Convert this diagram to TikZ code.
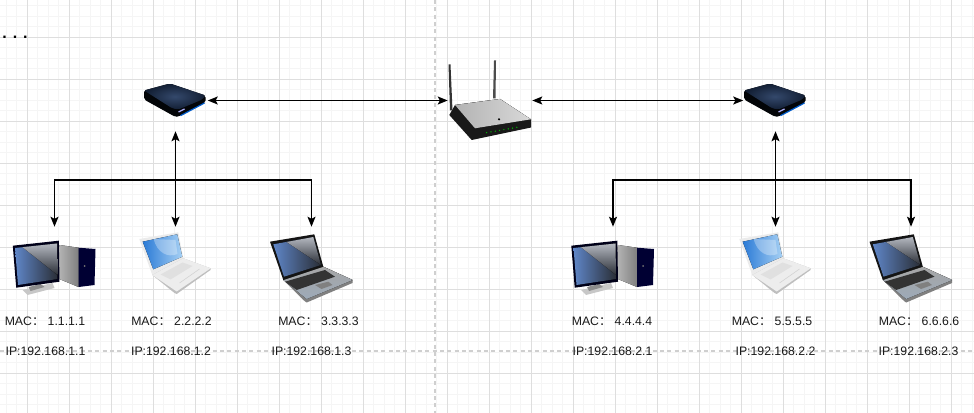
\documentclass[tikz,border=0pt]{standalone}
\usepackage{fontspec}
\setmainfont{Liberation Sans}
\newfontfamily\cjk{Noto Sans CJK SC}
\usetikzlibrary{shapes, arrows.meta, positioning}
\definecolor{minorgrid}{HTML}{F5F5F5}
\definecolor{majorgrid}{HTML}{DEDEDE}
\definecolor{guide}{HTML}{CFCFCF}
\definecolor{navya}{HTML}{121E33}
\definecolor{navyb}{HTML}{34496C}
\definecolor{scrblue}{HTML}{5F86C8}
\definecolor{scrdark}{HTML}{2A2E36}
\definecolor{scrgrey}{HTML}{B4B8C0}
\definecolor{macblue}{HTML}{2A7AD6}
\definecolor{maclight}{HTML}{A6D0F4}
\definecolor{steel}{HTML}{9DAAB8}
\tikzstyle{every node}=[font=\fontsize{9.2pt}{11pt}\selectfont]
\tikzstyle{swbox}=[inner sep=0pt,minimum width=48pt,minimum height=45.75pt]
\tikzstyle{rtbox}=[inner sep=0pt,minimum width=63pt,minimum height=63pt]
\tikzstyle{hostbox}=[inner sep=0pt,minimum width=63pt,minimum height=61.5pt]
\tikzstyle{lbl}=[inner sep=0pt,text=black!90]
\tikzstyle{link}=[line width=1.15pt,>={Stealth[length=7.5pt,width=6pt,inset=1.6pt]}]
\tikzset{
  swicon/.pic={
    \fill[black!85!navya,rounded corners=1.5] (-31.5,-10) -- (-31.5,-1) -- (0,16.5) -- (3,16) -- (30,2) -- (30,-5) -- cycle;
    \fill[inner color=navyb,outer color=navya,rounded corners=1.5] (-31.5,-10) -- (-5.5,-17) -- (30,-5) -- (27,-1) -- (3,9) -- (-3,8) -- cycle;
    \draw[blue!55!cyan!80!black,line width=.9pt] (5,15.2) -- (29,2.5);
    \draw[white!70!blue,line width=1pt] (3,11.5) -- (9,8.5);
  },
  rticon/.pic={
    \fill[black!80] (-41.5,-36) -- (-39.5,-36) -- (-37.5,10) -- (-40,10) -- cycle;
    \fill[black!70] (4,-40) -- (6,-40) -- (5.5,-2) -- (3,-2) -- cycle;
    \fill[black!90] (-40.7,14.5) -- (-35,4.5) -- (10,-1.5) -- (41,19) -- (41,27) -- (-18.3,39.5) -- cycle;
    \fill[left color=black!30,right color=black!15] (-35,4.5) -- (10,-1.5) -- (41,18.8) -- (-15,27.8) -- cycle;
    \fill[black] (9,18.8) circle (1.2);
    \foreach \n in {0,...,7} \fill[green!75!black] ({-3.3+\n*4.3},{32.2-\n*.77}) circle (.7);
  },
  pcicon/.pic={
    \fill[left color=black!25,right color=black!50] (5,-23) -- (24,-20.3) -- (24,19) -- (0,9) -- cycle;
    \fill[black!80!blue] (24,-20.3) -- (41,-19) -- (40,17) -- (24,19) -- cycle;
    \fill[black!55] (30,-2) circle (1);
    \fill[black!22] (-32,22) -- (-2,15) -- (0,20) -- (-27,27) -- cycle;
    \fill[black!45] (-26,19) -- (-14,16) -- (-10,19) -- (-24,23) -- cycle;
    \fill[black!90!blue] (-41.7,-22.3) -- (4.3,-27.3) -- (5,13.7) -- (-38.3,19.7) -- cycle;
    \fill[left color=scrblue,right color=scrdark] (-39.5,-20) -- (2.5,-24.5) -- (3,11) -- (-36.5,17) -- cycle;
    \fill[top color=scrgrey,bottom color=scrdark] (-32,-20.8) -- (2.5,-24.5) -- (3,7) -- cycle;
  },
  macicon/.pic={
    \fill[black!8] (-36.2,-29) -- (2.8,-35.7) -- (7.8,-9.7) -- (-23.2,7) -- cycle;
    \fill[left color=macblue,right color=maclight] (-32.8,-26.3) -- (1.8,-33.7) -- (6.8,-11.3) -- (-22.2,1.3) -- cycle;
    \fill[white,opacity=.3] (-22,-29) .. controls (-18,-15) and (-8,-10) .. (2,-14) -- (0,-28) -- cycle;
    \fill[black!25] (-23.2,7) -- (7.8,-9.7) -- (35.2,0.3) -- (35,2) -- (1.2,26) -- (-1,25) -- cycle;
    \fill[black!7] (-23.2,7) -- (7.8,-9.7) -- (35.2,0.3) -- (1.2,23.5) -- cycle;
    \fill[black!12] (-15,6.5) -- (7,-5.5) -- (17,-2) -- (-5,11.5) -- cycle;
    \draw[black!18,line width=.4pt] (4,15) -- (14,8) -- (24,1);
  },
  nbicon/.pic={
    \fill[black!50] (-28.2,12) -- (11.8,-1.3) -- (41.2,12) -- (41,15) -- (-4.8,34.5) -- (-7,33) -- cycle;
    \fill[top color=black!35,bottom color=steel] (-28.2,12) -- (11.8,-1.3) -- (41.2,12) -- (-4.8,31) -- cycle;
    \fill[black!80] (-26.5,13.7) -- (13.5,2) -- (23.5,8.7) -- (-14.8,22) -- cycle;
    \fill[black!50] (3.5,17) -- (16.8,13.7) -- (21,17) -- (10,21) -- cycle;
    \fill[black!92] (-41.5,-26.3) -- (2.8,-33.7) -- (11.8,-1.3) -- (-28.2,12) -- cycle;
    \fill[left color=scrblue,right color=scrdark] (-38.2,-23.7) -- (1.8,-31) -- (9.5,-3) -- (-27.5,8.7) -- cycle;
    \fill[top color=scrgrey,bottom color=scrdark] (-25,-26) -- (1.8,-31) -- (9.5,-3) -- cycle;
  }
}

\begin{document}
\begin{tikzpicture}[x=.75pt,y=-.75pt]
    \useasboundingbox (0,0) rectangle (974,413);
    \foreach \n in {0,...,93} \draw[minorgrid,line width=.75pt] ({\n*10.5-4.2},0) -- ({\n*10.5-4.2},413);
    \foreach \n in {0,...,40} \draw[minorgrid,line width=.75pt] (0,{\n*10.5-4.7}) -- (974,{\n*10.5-4.7});
    \foreach \n in {0,...,22} \draw[majorgrid,line width=.75pt] ({\n*42+27.3},0) -- ({\n*42+27.3},413);
    \foreach \n in {0,...,8} \draw[majorgrid,line width=.75pt] (0,{\n*42+37.3}) -- (974,{\n*42+37.3});
    \draw[guide,line width=.9pt,dash pattern=on 3pt off 2.5pt] (435,0) -- (435,413);
    \draw[guide,line width=.9pt,dash pattern=on 3pt off 2.5pt] (0,351) -- (974,351);

    \node[rtbox] (rt) at (490,100.5) {};
    \node[swbox, left of=rt, node distance=235.875pt] (sw1) {};
    \node[swbox, right of=rt, node distance=214.125pt] (sw2) {};
    \node[hostbox, below of=sw1, node distance=125.625pt] (lap1) {};
    \node[hostbox, left of=lap1, node distance=90.75pt] (pc1) {};
    \node[hostbox, right of=lap1, node distance=102pt] (nb1) {};
    \node[hostbox, below of=sw2, node distance=125.625pt] (lap2) {};
    \node[hostbox, left of=lap2, node distance=121.875pt] (pc2) {};
    \node[hostbox, right of=lap2, node distance=101.625pt] (nb2) {};
    \coordinate[below of=sw1, node distance=59.625pt] (j1);
    \coordinate[below of=sw2, node distance=59.625pt] (j2);

    \pic at (rt) {rticon};
    \pic at (sw1) {swicon};
    \pic at (sw2) {swicon};
    \pic at (pc1) {pcicon};
    \pic at (lap1) {macicon};
    \pic at (nb1) {nbicon};
    \pic at (pc2) {pcicon};
    \pic at (lap2) {macicon};
    \pic at (nb2) {nbicon};

    \draw[link,<->] (sw1) -- (rt);
    \draw[link,<->] (rt) -- (sw2);
    \draw[link,<->] (sw1) -- (lap1);
    \draw[link,->] (j1) -| (pc1);
    \draw[link,->] (j1) -| (nb1);
    \draw[link,<->] (sw2) -- (lap2);
    \draw[link,->] (j2) -| (pc2);
    \draw[link,->] (j2) -| (nb2);

    \node[font=\fontsize{12pt}{14pt}\selectfont\bfseries,inner sep=0pt,anchor=base] (more) at (15,38.5) {. . .};
    \node[lbl] (mac1) at (45,321.5) {MAC{\cjk ：} 1.1.1.1};
    \node[lbl] (ip1) at (45.5,351.5) {IP:192.168.1.1};
    \node[lbl] (mac2) at (171.5,321.5) {MAC{\cjk ：} 2.2.2.2};
    \node[lbl] (ip2) at (171,351.5) {IP:192.168.1.2};
    \node[lbl] (mac3) at (318.5,321.5) {MAC{\cjk ：} 3.3.3.3};
    \node[lbl] (ip3) at (311.5,351.5) {IP:192.168.1.3};
    \node[lbl] (mac4) at (612,321.5) {MAC{\cjk ：} 4.4.4.4};
    \node[lbl] (ip4) at (612.5,351.5) {IP:192.168.2.1};
    \node[lbl] (mac5) at (772,321.5) {MAC{\cjk ：} 5.5.5.5};
    \node[lbl] (ip5) at (775.5,351.5) {IP:192.168.2.2};
    \node[lbl] (mac6) at (919,321.5) {MAC{\cjk ：} 6.6.6.6};
    \node[lbl] (ip6) at (918.5,351.5) {IP:192.168.2.3};
\end{tikzpicture}
\end{document}
